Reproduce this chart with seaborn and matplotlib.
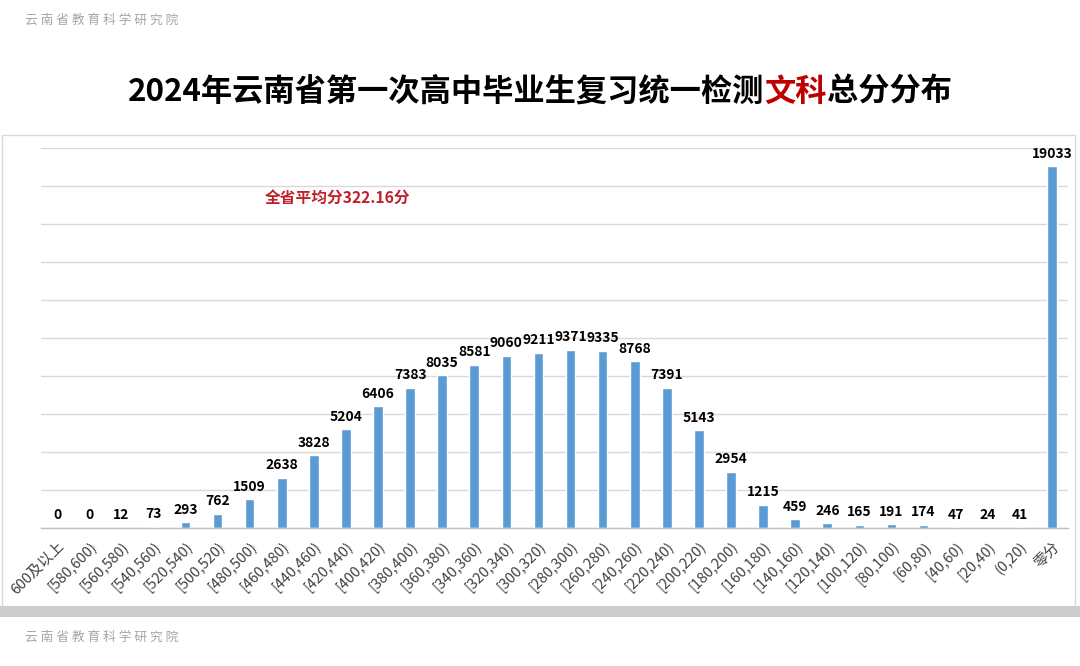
import matplotlib
matplotlib.use("Agg")
import matplotlib.pyplot as plt
import seaborn as sns
import pandas as pd
from matplotlib.patches import Rectangle

# --- Data ---
score_bins = [
    '600及以上', '[580,600)', '[560,580)', '[540,560)', '[520,540)', '[500,520)',
    '[480,500)', '[460,480)', '[440,460)', '[420,440)', '[400,420)', '[380,400)',
    '[360,380)', '[340,360)', '[320,340)', '[300,320)', '[280,300)', '[260,280)',
    '[240,260)', '[220,240)', '[200,220)', '[180,200)', '[160,180)', '[140,160)',
    '[120,140)', '[100,120)', '[80,100)', '[60,80)', '[40,60)', '[20,40)',
    '(0,20)', '零分'
]
student_counts = [
    0, 0, 12, 73, 293, 762, 1509, 2638, 3828, 5204, 6406, 7383, 8035, 8581,
    9060, 9211, 9371, 9335, 8768, 7391, 5143, 2954, 1215, 459, 246, 165, 191,
    174, 47, 24, 41, 19033
]
title_parts = [('2024年云南省第一次高中毕业生复习统一检测', '#000000'),
               ('文科', '#C00000'),
               ('总分分布', '#000000')]
mean_note = '全省平均分322.16分'
watermark = '云南省教育科学研究院'

df = pd.DataFrame({'bin': score_bins, 'count': student_counts})

# --- Style ---
sns.set_theme(style='white')
plt.rcParams['font.family'] = ['Noto Sans CJK SC', 'DejaVu Sans']

fig = plt.figure(figsize=(10.8, 6.66), dpi=100)
fig.patch.set_facecolor('white')

# panel frame and grey strip under it
fig.patches.append(Rectangle((0.002, 1 - 606 / 666), 1073 / 1080, 471 / 666,
                             transform=fig.transFigure, fill=False,
                             edgecolor='#D9D9D9', linewidth=1))
fig.patches.append(Rectangle((0.0, 1 - 617 / 666), 1.0, 11 / 666,
                             transform=fig.transFigure, facecolor='#CDCDCD',
                             edgecolor='none'))

ax = fig.add_axes([41 / 1080, 1 - 528 / 666, 1027 / 1080, 380 / 666])

sns.barplot(data=df, x='bin', y='count', color='#5B9BD5', saturation=1,
            width=0.3, ax=ax)

ax.set_ylim(0, 20000)
ax.set_xlim(-0.5, len(score_bins) - 0.5)
ax.set_yticks(range(0, 20001, 2000))
ax.yaxis.grid(True, color='#D9D9D9', linewidth=1)
ax.set_axisbelow(True)
ax.tick_params(axis='y', left=False, labelleft=False)
ax.tick_params(axis='x', bottom=False, pad=2)
ax.set_xlabel('')
ax.set_ylabel('')
for side in ['top', 'right', 'left']:
    ax.spines[side].set_visible(False)
ax.spines['bottom'].set_color('#BFBFBF')
ax.spines['bottom'].set_linewidth(1)

for label in ax.get_xticklabels():
    label.set_rotation(45)
    label.set_ha('right')
    label.set_rotation_mode('anchor')
    label.set_fontsize(10.5)
    label.set_color('#404040')

for container in ax.containers:
    ax.bar_label(container, labels=[f'{int(v)}' for v in container.datavalues],
                 fontsize=10, fontweight='bold', color='#000000', padding=4)

ax.text(8.75, 17400, mean_note, ha='center', va='center', fontsize=11.3,
        fontweight='bold', color='#C0202A')

# --- Title with red highlight ---
renderer = fig.canvas.get_renderer()
widths = []
for txt, col in title_parts:
    t = fig.text(0, 0, txt, fontsize=22.5, fontweight='bold')
    widths.append(t.get_window_extent(renderer).width)
    t.remove()
x_px = 540 - sum(widths) / 2
for (txt, col), w in zip(title_parts, widths):
    fig.text(x_px / 1080, 1 - 92 / 666, txt, fontsize=22.5, fontweight='bold',
             color=col, ha='left', va='center')
    x_px += w

# --- Watermarks ---
spaced = ' '.join(watermark)
fig.text(25 / 1080, 1 - 20 / 666, spaced, fontsize=9.2, color='#A6A6A6',
         ha='left', va='center')
fig.text(25 / 1080, 1 - 637 / 666, spaced, fontsize=9.2, color='#A6A6A6',
         ha='left', va='center')

fig.savefig('out.png', dpi=100, facecolor='white')
plt.close(fig)
